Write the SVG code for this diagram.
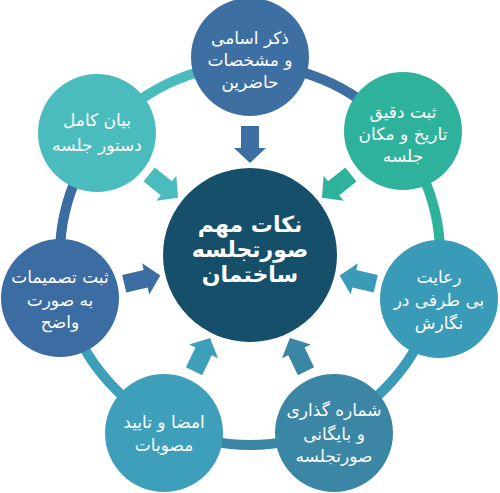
<svg xmlns="http://www.w3.org/2000/svg" width="500" height="493" viewBox="0 0 500 493">
<style>
.ring{fill:none;stroke-width:10}
.t{font-family:"DejaVu Sans","Noto Sans",sans-serif;font-size:17px;fill:#fff;text-anchor:middle}
.c{font-size:22px;font-weight:bold}
</style>
<defs>
<path id="arr" d="M-9,-129 H9 V-107 H16 L0,-92 L-16,-107 H-9 Z"/>
</defs>
<rect width="500" height="493" fill="#fff"/>
<g id="connectors">
<path class="ring" stroke="#3d6fa3" d="M250 65 A190 190 0 0 1 398.55 136.54"/>
<path class="ring" stroke="#2fb29c" d="M398.55 136.54 A190 190 0 0 1 435.24 297.28"/>
<path class="ring" stroke="#3a9bb8" d="M435.24 297.28 A190 190 0 0 1 332.44 426.18"/>
<path class="ring" stroke="#3b86a5" d="M332.44 426.18 A190 190 0 0 1 167.56 426.18"/>
<path class="ring" stroke="#3e9fbb" d="M167.56 426.18 A190 190 0 0 1 64.76 297.28"/>
<path class="ring" stroke="#3b6ca2" d="M64.76 297.28 A190 190 0 0 1 101.45 136.54"/>
<path class="ring" stroke="#4bbcbd" d="M101.45 136.54 A190 190 0 0 1 250 65"/>
<use href="#arr" fill="#3d6fa3" transform="translate(250,255)"/>
<use href="#arr" fill="#2fb29c" transform="translate(250,255) rotate(51.43)"/>
<use href="#arr" fill="#3a9bb8" transform="translate(250,255) rotate(102.86)"/>
<use href="#arr" fill="#3b86a5" transform="translate(250,255) rotate(154.29)"/>
<use href="#arr" fill="#3e9fbb" transform="translate(250,255) rotate(205.71)"/>
<use href="#arr" fill="#3b6ca2" transform="translate(250,255) rotate(257.14)"/>
<use href="#arr" fill="#4bbcbd" transform="translate(250,255) rotate(308.57)"/>
</g>
<g id="center">
<circle cx="250" cy="255" r="87" fill="#164f6a"/>
<text class="t c" x="250" y="232">نکات مهم</text>
<text class="t c" x="250" y="257">صورتجلسه</text>
<text class="t c" x="250" y="282">ساختمان</text>
</g>
<g id="n-top">
<circle cx="250" cy="57" r="59" fill="#3d6fa3"/>
<text class="t" x="250" y="44">ذکر اسامی</text>
<text class="t" x="250" y="66">و مشخصات</text>
<text class="t" x="250" y="88">حاضرین</text>
</g>
<g id="n-topright">
<circle cx="403" cy="131" r="59" fill="#2fb29c"/>
<text class="t" x="403" y="118">ثبت دقیق</text>
<text class="t" x="403" y="140">تاریخ و مکان</text>
<text class="t" x="403" y="162">جلسه</text>
</g>
<g id="n-right">
<circle cx="439" cy="299" r="59" fill="#3a9bb8"/>
<text class="t" x="439" y="283">رعایت</text>
<text class="t" x="439" y="306">بی طرفی در</text>
<text class="t" x="439" y="329">نگارش</text>
</g>
<g id="n-bottomright">
<circle cx="334" cy="433" r="59" fill="#3b86a5"/>
<text class="t" x="334" y="416">شماره گذاری</text>
<text class="t" x="334" y="440">و بایگانی</text>
<text class="t" x="334" y="462">صورتجلسه</text>
</g>
<g id="n-bottomleft">
<circle cx="164" cy="433" r="59" fill="#3e9fbb"/>
<text class="t" x="164" y="428">امضا و تایید</text>
<text class="t" x="164" y="451">مصوبات</text>
</g>
<g id="n-left">
<circle cx="60" cy="298" r="59" fill="#3b6ca2"/>
<text class="t" x="60" y="283">ثبت تصمیمات</text>
<text class="t" x="60" y="306">به صورت</text>
<text class="t" x="60" y="328">واضح</text>
</g>
<g id="n-topleft">
<circle cx="97" cy="133" r="59" fill="#4bbcbd"/>
<text class="t" x="97" y="126">بیان کامل</text>
<text class="t" x="97" y="151">دستور جلسه</text>
</g>
</svg>
